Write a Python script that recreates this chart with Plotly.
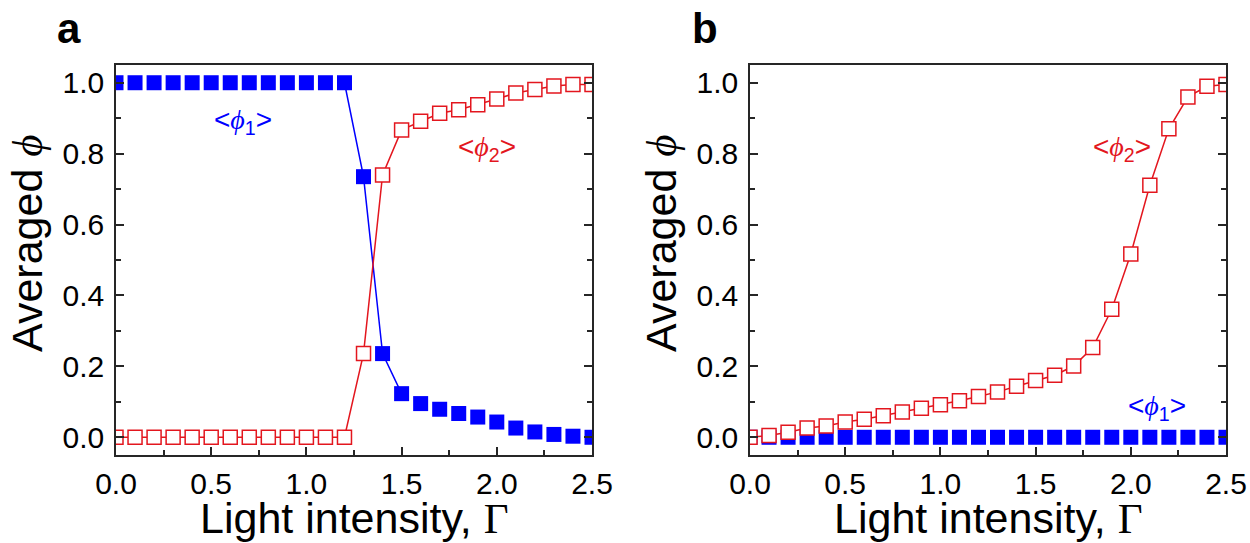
import plotly.graph_objects as go

# ---------------- data ----------------
gamma = [0.0, 0.1, 0.2, 0.3, 0.4, 0.5, 0.6, 0.7, 0.8, 0.9, 1.0, 1.1, 1.2,
         1.3, 1.4, 1.5, 1.6, 1.7, 1.8, 1.9, 2.0, 2.1, 2.2, 2.3, 2.4, 2.5]

a_phi1 = [1.0, 1.0, 1.0, 1.0, 1.0, 1.0, 1.0, 1.0, 1.0, 1.0, 1.0, 1.0, 1.0,
          0.735, 0.236, 0.123, 0.095, 0.079, 0.067, 0.057, 0.043, 0.026,
          0.015, 0.008, 0.003, 0.0]
a_phi2 = [0.0, 0.0, 0.0, 0.0, 0.0, 0.0, 0.0, 0.0, 0.0, 0.0, 0.0, 0.0, 0.0,
          0.236, 0.740, 0.867, 0.891, 0.914, 0.924, 0.938, 0.954, 0.971,
          0.981, 0.991, 0.995, 0.995]

b_phi1 = [0.0, 0.0, 0.0, 0.0, 0.0, 0.0, 0.0, 0.0, 0.0, 0.0, 0.0, 0.0, 0.0,
          0.0, 0.0, 0.0, 0.0, 0.0, 0.0, 0.0, 0.0, 0.0, 0.0, 0.0, 0.0, 0.0]
b_phi2 = [0.0, 0.005, 0.014, 0.026, 0.032, 0.043, 0.051, 0.061, 0.071, 0.082,
          0.092, 0.103, 0.115, 0.128, 0.144, 0.160, 0.175, 0.201, 0.253,
          0.361, 0.517, 0.711, 0.870, 0.960, 0.990, 0.995]

x_ticks = [0.0, 0.5, 1.0, 1.5, 2.0, 2.5]
y_ticks = [0.0, 0.2, 0.4, 0.6, 0.8, 1.0]

# transition segment of <phi1> in panel a where the connecting line is visible
a_seg = slice(12, 16)

BLUE = "#0000ff"
RED = "#e3161e"
AXIS = "#262626"
SANS = "Liberation Sans, Arial, sans-serif"
SERIF = "Liberation Serif, DejaVu Serif, serif"

fig = go.Figure()

# ---- panel a ----
fig.add_trace(go.Scatter(x=gamma[a_seg], y=a_phi1[a_seg], mode="lines",
                         line=dict(color=BLUE, width=1.5),
                         xaxis="x", yaxis="y", showlegend=False))
fig.add_trace(go.Scatter(x=gamma, y=a_phi1, mode="markers",
                         marker=dict(symbol="square", size=15, color=BLUE,
                                     line=dict(width=0)),
                         xaxis="x", yaxis="y", showlegend=False))
fig.add_trace(go.Scatter(x=gamma, y=a_phi2, mode="lines+markers",
                         line=dict(color=RED, width=1.5),
                         marker=dict(symbol="square", size=14, color="white",
                                     line=dict(color=RED, width=1.5)),
                         xaxis="x", yaxis="y", showlegend=False))

# ---- panel b ----
fig.add_trace(go.Scatter(x=gamma, y=b_phi1, mode="markers",
                         marker=dict(symbol="square", size=15, color=BLUE,
                                     line=dict(width=0)),
                         xaxis="x2", yaxis="y2", showlegend=False))
fig.add_trace(go.Scatter(x=gamma, y=b_phi2, mode="lines+markers",
                         line=dict(color=RED, width=1.5),
                         marker=dict(symbol="square", size=14, color="white",
                                     line=dict(color=RED, width=1.5)),
                         xaxis="x2", yaxis="y2", showlegend=False))

W, H = 1250, 543
ydom = [1 - 455 / H, 1 - 65 / H]
PANEL_LEFT = {"a": 116, "b": 750}
PANEL_W = 476


def xaxis(domain, anchor):
    return dict(domain=domain, anchor=anchor, range=[0, 2.5],
                tickvals=x_ticks, tickformat=".1f",
                ticks="inside", ticklen=8, tickwidth=1.5, tickcolor=AXIS,
                minor=dict(ticks="inside", ticklen=5, dtick=0.25, tickwidth=1.5,
                           tickcolor=AXIS),
                showline=True, linecolor=AXIS, linewidth=1.5, mirror=True,
                showgrid=False, zeroline=False,
                tickfont=dict(family=SANS, size=30, color="black"),
                ticklabelstandoff=1,
                automargin=False)


def yaxis(domain, anchor):
    return dict(domain=domain, anchor=anchor, range=[-0.05, 1.05],
                tickvals=y_ticks, tickformat=".1f",
                ticks="inside", ticklen=8, tickwidth=1.5, tickcolor=AXIS,
                minor=dict(ticks="inside", ticklen=5, dtick=0.1, tickwidth=1.5,
                           tickcolor=AXIS),
                showline=True, linecolor=AXIS, linewidth=1.5, mirror="ticks",
                showgrid=False, zeroline=False,
                tickfont=dict(family=SANS, size=30, color="black"),
                ticklabelstandoff=4,
                automargin=False)


fig.update_layout(
    width=W, height=H,
    margin=dict(l=0, r=0, t=0, b=0),
    paper_bgcolor="white", plot_bgcolor="white",
    xaxis=xaxis([PANEL_LEFT["a"] / W, (PANEL_LEFT["a"] + PANEL_W) / W], "y"),
    yaxis=yaxis(ydom, "x"),
    xaxis2=xaxis([PANEL_LEFT["b"] / W, (PANEL_LEFT["b"] + PANEL_W) / W], "y2"),
    yaxis2=yaxis(ydom, "x2"),
)


def paper_text(txt, px, py, size, angle=0):
    fig.add_annotation(text=txt, x=px / W, y=1 - py / H,
                       xref="paper", yref="paper", xanchor="center", yanchor="middle",
                       showarrow=False, textangle=angle,
                       font=dict(family=SANS, size=size, color="black"))


# axis titles
xtitle = f"Light intensity, <span style=\"font-family:{SERIF}\">Γ</span>"
ytitle = f"Averaged <span style=\"font-family:{SERIF}\"><i>ϕ</i></span>"
for key, left in PANEL_LEFT.items():
    paper_text(xtitle, left + PANEL_W / 2, 518, 43)
    paper_text(ytitle, left - 89, 243, 43, angle=-90)

# panel letters
paper_text("<b>a</b>", 69, 29, 42)
paper_text("<b>b</b>", 705, 29, 42)


def label(txt, x, y, xref, yref, color):
    fig.add_annotation(text=txt, x=x, y=y, xref=xref, yref=yref,
                       xanchor="center", yanchor="middle",
                       showarrow=False, font=dict(family=SANS, size=28, color=color))


phi = f"<span style=\"font-family:{SERIF}\"><i>ϕ</i></span>"
phi1 = f"&lt;{phi}<sub>1</sub>&gt;"
phi2 = f"&lt;{phi}<sub>2</sub>&gt;"
label(phi1, 0.667, 0.89, "x", "y", BLUE)
label(phi2, 1.946, 0.815, "x", "y", RED)
label(phi2, 1.952, 0.815, "x2", "y2", RED)
label(phi1, 2.138, 0.085, "x2", "y2", BLUE)

fig.write_html("out.html",
               config={"displayModeBar": False},
               post_script="document.body.style.margin='0';"
                           "document.body.style.overflow='hidden';")
